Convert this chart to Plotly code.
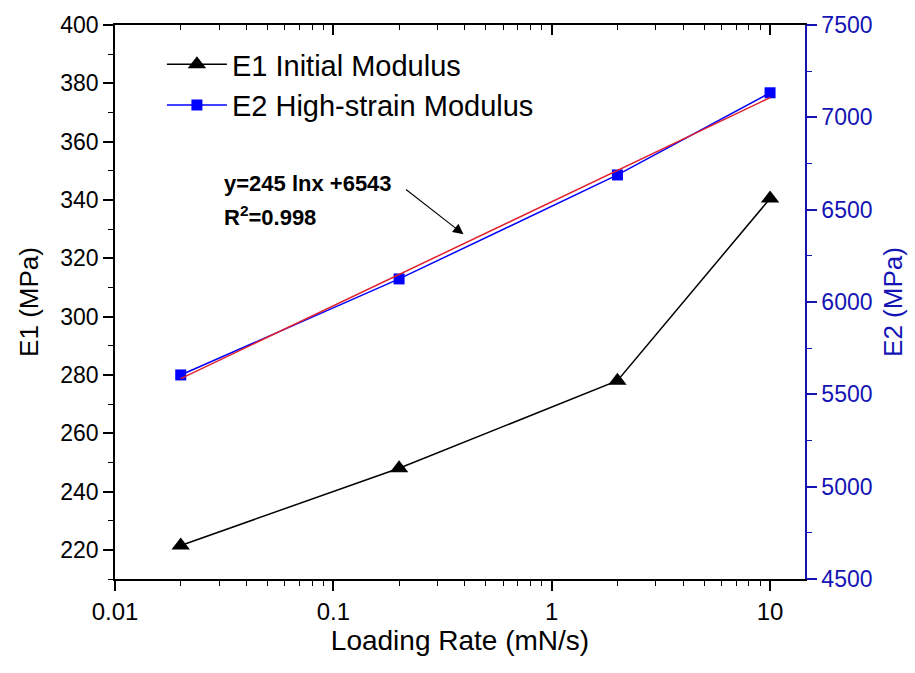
import plotly.graph_objects as go

# ---- data ----
rate = [0.02, 0.2, 2, 10]                 # Loading rate (mN/s)
e1 = [221.5, 248.0, 278.0, 340.5]        # E1 Initial Modulus (MPa)
e2 = [5605, 6125, 6688, 7133]            # E2 High-strain Modulus (MPa)
fit_x = [0.02, 10]                        # fit line end points
fit_y = [5585, 7107]                      # y = 245 ln x + 6543

x_ticks = [0.01, 0.1, 1, 10]
x_tick_text = ["0.01", "0.1", "1", "10"]

FONT = "Arial, Liberation Sans, sans-serif"
NARROW = "Liberation Sans Narrow, Arial Narrow, Liberation Sans, Arial, sans-serif"
AX2 = "#1414b4"

fig = go.Figure()
fig.add_trace(go.Scatter(
    x=rate, y=e1, mode="lines+markers", name="E1 Initial Modulus",
    line=dict(color="black", width=1.5),
    marker=dict(symbol="triangle-up", size=16, color="black"),
    yaxis="y", legendgroup="a"))
fig.add_trace(go.Scatter(
    x=rate, y=e2, mode="lines+markers", name="E2 High-strain Modulus",
    line=dict(color="#0000ff", width=1.5),
    marker=dict(symbol="square", size=11, color="#0000ff"),
    yaxis="y2", legendgroup="b"))
fig.add_trace(go.Scatter(
    x=fit_x, y=fit_y, mode="lines", showlegend=False,
    line=dict(color="#e0202c", width=1.5), yaxis="y2"))
# placeholder trace on the top (mirror) axis
fig.add_trace(go.Scatter(x=[None], y=[None], xaxis="x2", yaxis="y",
                         showlegend=False, hoverinfo="skip"))

xr = [-2, 1.16]
fig.update_layout(
    width=915, height=673,
    margin=dict(l=115, r=109, t=18, b=94),
    paper_bgcolor="white", plot_bgcolor="white",
    font=dict(family=FONT, size=23, color="black"),
    showlegend=True,
    legend=dict(x=0.068, y=0.975, xanchor="left", yanchor="top",
                bgcolor="rgba(0,0,0,0)", font=dict(size=29, family=FONT),
                traceorder="grouped", tracegroupgap=0, itemwidth=60),
    xaxis=dict(type="log", range=xr, showgrid=False, zeroline=False,
               showline=True, linecolor="black", linewidth=1.5,
               ticks="outside", ticklen=10, tickwidth=1.5, tickcolor="black",
               tickvals=x_ticks, ticktext=x_tick_text,
               tickfont=dict(family=NARROW, size=24),
               minor=dict(ticks="outside", ticklen=5, tickwidth=1.2,
                          tickcolor="black", dtick="D1", showgrid=False),
               title=dict(text="Loading Rate (mN/s)", font=dict(family=NARROW, size=28),
                          standoff=0)),
    xaxis2=dict(type="log", range=xr, overlaying="x", side="top",
                showgrid=False, zeroline=False, showline=True,
                linecolor="black", linewidth=1.5, ticks="inside", ticklen=10,
                tickwidth=1.5, tickcolor="black", tickvals=x_ticks,
                showticklabels=False,
                minor=dict(ticks="inside", ticklen=5, tickwidth=1.2,
                           tickcolor="black", dtick="D1", showgrid=False)),
    yaxis=dict(range=[210, 400], dtick=20, tick0=200, showgrid=False,
               zeroline=False, showline=True, linecolor="black", linewidth=1.5,
               ticks="outside", ticklen=10, tickwidth=1.5, tickcolor="black",
               minor=dict(ticks="outside", ticklen=5, tickwidth=1.2,
                          tickcolor="black", dtick=10, showgrid=False),
               title=dict(text="E1 (MPa)", font=dict(size=26), standoff=14)),
    yaxis2=dict(range=[4500, 7500], dtick=500, overlaying="y", side="right",
                showgrid=False, zeroline=False, showline=True,
                linecolor=AX2, linewidth=1.5, ticks="outside", ticklen=10,
                tickwidth=1.5, tickcolor=AX2, tickfont=dict(color=AX2),
                minor=dict(ticks="outside", ticklen=5, tickwidth=1.2,
                           tickcolor=AX2, dtick=250, showgrid=False),
                title=dict(text="E2 (MPa)", font=dict(size=26, color=AX2),
                           standoff=12)),
)

fig.add_annotation(xref="paper", yref="paper", x=0.155, y=0.713,
                   xanchor="left", yanchor="middle", showarrow=False,
                   text="<b>y=245 lnx +6543</b>", font=dict(size=22))
fig.add_annotation(xref="paper", yref="paper", x=0.155, y=0.655,
                   xanchor="left", yanchor="middle", showarrow=False,
                   text="<b>R<sup>2</sup>=0.998</b>", font=dict(size=22))
fig.add_annotation(xref="x", yref="y", x=-0.404, y=328.2,
                   ax=-59, ay=-46, showarrow=True, arrowhead=2,
                   arrowsize=1.9, arrowwidth=1.1, arrowcolor="black", text="")

fig.write_html("out.html")
